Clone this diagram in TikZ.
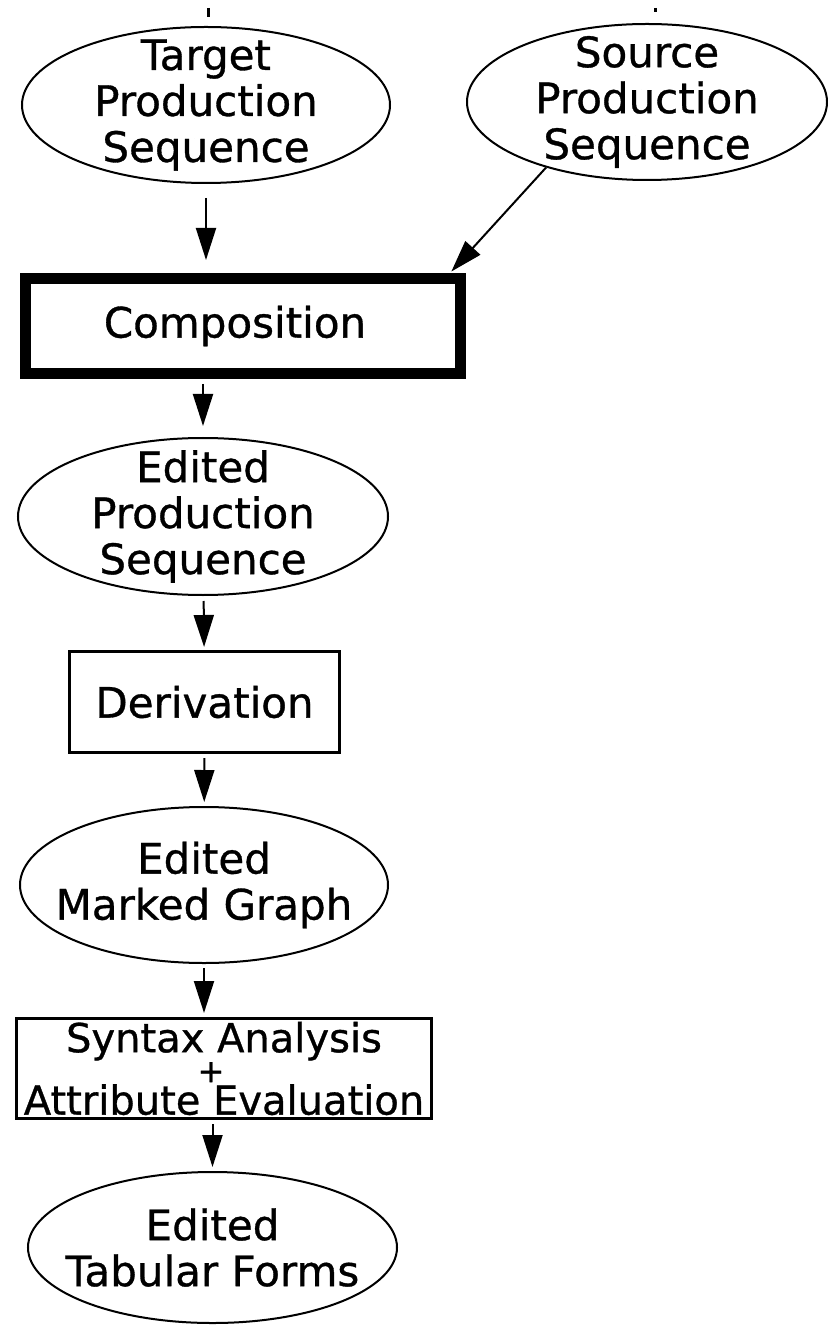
\documentclass[tikz,border=0pt]{standalone}
\usepackage{fontspec}
\setmainfont{DejaVu Sans}[BoldFont=DejaVu Sans, BoldFeatures={FakeBold=0.8}]
\usetikzlibrary{arrows.meta,shapes.geometric}

\begin{document}
\begin{tikzpicture}[x=0.5pt, y=-0.5pt,
    ell/.style={draw, ellipse, line width=1pt, align=center,
        inner xsep=-30pt, inner ysep=-30pt, font=\fontsize{21}{23}\selectfont\bfseries},
    blk/.style={draw, rectangle, line width=1.5pt, align=center,
        inner sep=0pt, font=\fontsize{21}{23}\selectfont\bfseries},
    arr/.style={-{Triangle[length=16pt,width=10pt]}, line width=1pt,
        shorten <=2pt, shorten >=2pt}]
    \useasboundingbox (0,0) rectangle (827,1325);

    % 1. Input sequences
    \node[ell, minimum width=184pt, minimum height=78pt] (tps) at (206,105)
        {Target\\Production\\Sequence};
    \node[ell, minimum width=180pt, minimum height=78pt] (sps) at (647,102)
        {Source\\Production\\Sequence};
    \coordinate (tin) at (208,8);
    \coordinate (sin) at (655,8);
    \draw[line width=1.5pt] (tin) -- ++(0,9);
    \draw[line width=1.5pt] (sin) -- ++(0,4);

    % 2. Composition
    \node[blk, line width=5.5pt, minimum width=217.5pt, minimum height=47.5pt] (comp) at (243,326)
        {Composition\rule{8pt}{0pt}};

    % 3. Edited sequence and derivation
    \node[ell, minimum width=185pt, minimum height=78.5pt] (eps) at (203,516.5)
        {Edited\\Production\\Sequence};
    \node[blk, minimum width=135pt, minimum height=50.5pt] (der) at (204.5,702)
        {Derivation};
    \node[ell, minimum width=184pt, minimum height=78pt] (emg) at (204,885)
        {Edited\\Marked Graph};

    % 4. Analysis and result
    \node[blk, minimum width=207.5pt, minimum height=50pt,
        font=\fontsize{20}{15}\selectfont\bfseries] (syn) at (224,1068.5)
        {Syntax Analysis\\{\fontsize{16}{15}\selectfont +}\rule{13pt}{0pt}\\Attribute Evaluation};
    \node[ell, minimum width=184.5pt, minimum height=75.5pt] (etf) at (212.5,1247.5)
        {Edited\\Tabular Forms};

    % Arrows
    \draw[arr, shorten <=7pt, shorten >=6.5pt] (tps) -- (tps |- comp.north);
    \draw[arr, shorten <=0pt, shorten >=1pt] (sps.213) -- ([xshift=-8pt]comp.north east);
    \draw[arr, shorten <=2.5pt, shorten >=5.5pt] (eps |- comp.south) -- (eps);
    \draw[arr, shorten <=2.5pt, shorten >=1.5pt] (eps) -- (der);
    \draw[arr] (der) -- (emg);
    \draw[arr] (emg) -- (emg |- syn.north);
    \draw[arr] (etf |- syn.south) -- (etf);
\end{tikzpicture}
\end{document}
